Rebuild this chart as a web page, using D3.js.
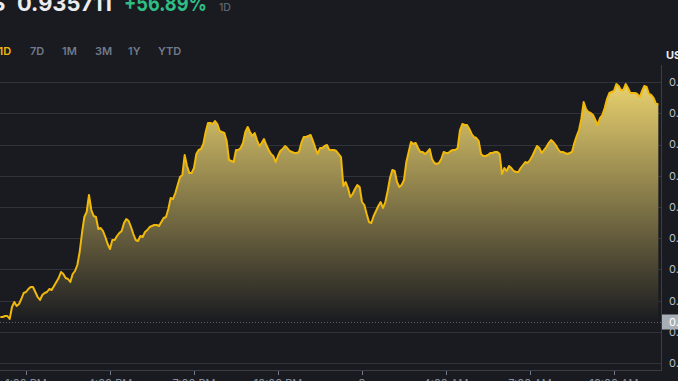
<!DOCTYPE html>
<html><head><meta charset="utf-8">
<script src="https://cdn.jsdelivr.net/npm/d3@7"></script>
<style>
html,body{margin:0;padding:0;background:#1a1b20;overflow:hidden;}
svg{display:block;}
</style></head><body>
<svg id="c" width="678" height="381"></svg>
<script>
// ---------- data ----------
const startTime = "2024-01-02T12:05:00";
const stepMinutes = 5;
const prices = [
0.5740,0.5740,0.5756,0.5756,0.5708,0.5900,0.5980,0.5916,0.5948,0.6028,
0.6124,0.6140,0.6188,0.6220,0.6220,0.6140,0.6060,0.6012,0.6092,0.6124,
0.6140,0.6188,0.6172,0.6236,0.6300,0.6364,0.6460,0.6428,0.6364,0.6348,
0.6300,0.6428,0.6476,0.6572,0.6780,0.7084,0.7340,0.7420,0.7692,0.7452,
0.7356,0.7340,0.7148,0.7164,0.7116,0.7020,0.6908,0.6828,0.6972,0.6972,
0.7036,0.7084,0.7116,0.7244,0.7308,0.7276,0.7180,0.7068,0.6972,0.6956,
0.7036,0.7020,0.7100,0.7132,0.7180,0.7196,0.7212,0.7212,0.7196,0.7260,
0.7324,0.7340,0.7468,0.7644,0.7628,0.7724,0.7852,0.7980,0.8012,0.8332,
0.8156,0.8044,0.8044,0.8124,0.8348,0.8412,0.8428,0.8508,0.8700,0.8844,
0.8844,0.8828,0.8876,0.8828,0.8716,0.8700,0.8684,0.8556,0.8252,0.8236,
0.8220,0.8412,0.8412,0.8444,0.8524,0.8700,0.8780,0.8700,0.8636,0.8684,
0.8572,0.8476,0.8524,0.8588,0.8492,0.8412,0.8348,0.8316,0.8220,0.8316,
0.8396,0.8428,0.8476,0.8444,0.8396,0.8380,0.8364,0.8364,0.8380,0.8524,
0.8620,0.8620,0.8636,0.8652,0.8556,0.8444,0.8348,0.8444,0.8444,0.8476,
0.8492,0.8412,0.8412,0.8412,0.8396,0.8348,0.8300,0.7836,0.7900,0.7804,
0.7660,0.7708,0.7788,0.7852,0.7820,0.7580,0.7532,0.7388,0.7260,0.7244,
0.7356,0.7436,0.7516,0.7580,0.7484,0.7580,0.7756,0.7964,0.8092,0.8076,
0.7900,0.7820,0.7852,0.7932,0.8220,0.8380,0.8540,0.8508,0.8524,0.8444,
0.8380,0.8380,0.8348,0.8380,0.8428,0.8268,0.8204,0.8188,0.8204,0.8268,
0.8380,0.8364,0.8364,0.8396,0.8412,0.8412,0.8444,0.8732,0.8828,0.8812,
0.8812,0.8748,0.8668,0.8620,0.8604,0.8556,0.8348,0.8316,0.8316,0.8332,
0.8364,0.8364,0.8380,0.8380,0.8348,0.8028,0.8124,0.8076,0.8156,0.8124,
0.8076,0.8060,0.8060,0.8124,0.8172,0.8220,0.8204,0.8252,0.8316,0.8396,
0.8476,0.8444,0.8364,0.8412,0.8460,0.8524,0.8572,0.8540,0.8492,0.8428,
0.8380,0.8380,0.8364,0.8348,0.8364,0.8380,0.8524,0.8636,0.8732,0.8908,
0.9180,0.9068,0.9020,0.9004,0.8972,0.8892,0.8812,0.8924,0.8972,0.9084,
0.9228,0.9324,0.9340,0.9356,0.9468,0.9436,0.9372,0.9372,0.9468,0.9404,
0.9324,0.9324,0.9324,0.9308,0.9260,0.9356,0.9436,0.9420,0.9308,0.9292,
0.9244,0.9148,0.9148
];
const basePrice = 0.5660;
const headerSymbol = "S";
const headerPrice = "0.935711";
const headerChange = "+56.89%";
const headerPeriod = "1D";
const periodTabs = ["1D","7D","1M","3M","1Y","YTD"];
const activeTab = "1D";
const quoteLabel = "USDT";
const xTickTimes = ["2024-01-02T13:00:00","2024-01-02T16:00:00","2024-01-02T19:00:00","2024-01-02T22:00:00","2024-01-03T01:00:00","2024-01-03T04:00:00","2024-01-03T07:00:00","2024-01-03T10:00:00"];
const xTickLabels = ["1:00 PM","4:00 PM","7:00 PM","10:00 PM","3","4:00 AM","7:00 AM","10:00 AM"];
const yTickValues = [0.50,0.55,0.60,0.65,0.70,0.75,0.80,0.85,0.90,0.95];

// ---------- build ----------
const t0 = new Date(startTime);
const data = prices.map((p,i)=>({t:new Date(t0.getTime()+i*stepMinutes*60000), p}));

const W = 678, H = 381;
const plotRight = 661, plotBottom = 370;
const svg = d3.select("#c");
const bg = "#1a1b20";
svg.append("rect").attr("width",W).attr("height",H).attr("fill",bg);

const x = d3.scaleTime()
  .domain([new Date("2024-01-02T12:00:00"), new Date("2024-01-03T11:40:00")])
  .range([-2, 660.67]);
const y = d3.scaleLinear().domain([0.50,0.95]).range([363.25,82]);

const defs = svg.append("defs");
const grad = defs.append("linearGradient").attr("id","fillg")
  .attr("gradientUnits","userSpaceOnUse").attr("x1",0).attr("x2",0)
  .attr("y1",y(0.95)).attr("y2",y(basePrice));
grad.append("stop").attr("offset","0%").attr("stop-color","#ead26f");
grad.append("stop").attr("offset","100%").attr("stop-color",bg);
defs.append("clipPath").attr("id","plotclip").append("rect")
  .attr("x",0).attr("y",0).attr("width",plotRight).attr("height",plotBottom);

// grid
svg.append("g").selectAll("line").data(yTickValues).join("line")
  .attr("x1",0).attr("x2",plotRight)
  .attr("y1",d=>Math.round(y(d))+0.5).attr("y2",d=>Math.round(y(d))+0.5)
  .attr("stroke","#30333a").attr("stroke-width",1);

// base dotted line
svg.append("line").attr("x1",0).attr("x2",plotRight)
  .attr("y1",Math.round(y(basePrice))+0.5).attr("y2",Math.round(y(basePrice))+0.5)
  .attr("stroke","#5a5f6a").attr("stroke-width",1).attr("stroke-dasharray","1 2");

const g = svg.append("g").attr("clip-path","url(#plotclip)");
const area = d3.area().x(d=>x(d.t)).y0(y(basePrice)).y1(d=>y(d.p));
const line = d3.line().x(d=>x(d.t)).y(d=>y(d.p));
g.append("path").datum(data).attr("d",area).attr("fill","url(#fillg)");
g.append("path").datum(data).attr("d",line).attr("fill","none")
  .attr("stroke","#f0b90b").attr("stroke-width",2).attr("stroke-linejoin","round");

// frame
svg.append("line").attr("x1",plotRight+0.5).attr("x2",plotRight+0.5).attr("y1",65).attr("y2",plotBottom+0.5)
  .attr("stroke","#3a3d45");
svg.append("line").attr("x1",0).attr("x2",plotRight+1).attr("y1",plotBottom+0.5).attr("y2",plotBottom+0.5)
  .attr("stroke","#3a3d45");

// x axis
const xt = xTickTimes.map(s=>new Date(s));
svg.append("g").selectAll("line").data(xt).join("line")
  .attr("x1",d=>Math.round(x(d))+0.5).attr("x2",d=>Math.round(x(d))+0.5)
  .attr("y1",plotBottom+1).attr("y2",plotBottom+5)
  .attr("stroke","#707a8a");
svg.append("g").selectAll("text").data(xt).join("text")
  .attr("x",d=>x(d)).attr("y",387).attr("text-anchor","middle")
  .attr("fill","#848e9c").attr("font-family","Inter, Roboto, sans-serif").attr("font-size",11)
  .text((d,i)=>xTickLabels[i]);

// y axis labels
const fmt = d3.format(".4f");
svg.append("g").selectAll("text").data(yTickValues).join("text")
  .attr("x",669).attr("y",d=>y(d)).attr("dy","0.35em")
  .attr("fill","#b7bdc6").attr("font-family","Inter, Roboto, sans-serif").attr("font-size",11)
  .text(d=>fmt(d));
// base price label
const by = y(basePrice);
svg.append("rect").attr("x",662).attr("y",by-7.5).attr("width",30).attr("height",15).attr("fill","#a9adb5");
svg.append("text").attr("x",669).attr("y",by+0.5).attr("dy","0.35em")
  .attr("fill","#ffffff").attr("font-family","Inter, Roboto, sans-serif").attr("font-size",11)
  .text(fmt(basePrice));

svg.append("text").attr("x",666).attr("y",58.5).attr("fill","#eaecef")
  .attr("font-family","Inter, Roboto, sans-serif").attr("font-size",11).attr("font-weight",700)
  .text(quoteLabel);

// header
const hf = "Inter, Roboto, sans-serif";
svg.append("text").attr("x",5.5).attr("y",11).attr("text-anchor","end").attr("fill","#eaecef")
  .attr("font-family",hf).attr("font-size",22).attr("font-weight",700).text(headerSymbol);
svg.append("text").attr("x",17).attr("y",11).attr("fill","#eaecef")
  .attr("font-family",hf).attr("font-size",22).attr("font-weight",700)
  .attr("textLength",95).attr("lengthAdjust","spacingAndGlyphs").text(headerPrice);
svg.append("text").attr("x",124).attr("y",11).attr("fill","#2ebd85")
  .attr("font-family",hf).attr("font-size",22).attr("font-weight",700)
  .attr("textLength",83).attr("lengthAdjust","spacingAndGlyphs").text(headerChange);
svg.append("text").attr("x",219).attr("y",10.5).attr("fill","#5e6673")
  .attr("font-family",hf).attr("font-size",10.5).attr("font-weight",500).text(headerPeriod);

const tabX = [-1.5,30,62,95,128,158];
svg.append("g").selectAll("text").data(periodTabs).join("text")
  .attr("x",(d,i)=>tabX[i]).attr("y",54.5)
  .attr("fill",d=>d===activeTab?"#f0b90b":"#707a8a")
  .attr("font-family",hf).attr("font-size",11).attr("font-weight",600).text(d=>d);
</script>
</body></html>
